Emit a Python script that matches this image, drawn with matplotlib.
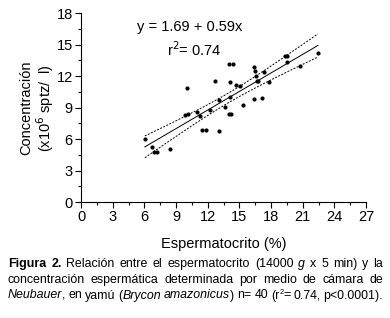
import numpy as np
import matplotlib
matplotlib.use("Agg")
import matplotlib.pyplot as plt
from matplotlib.ticker import MultipleLocator

plt.rcParams['font.family'] = ['Liberation Sans', 'DejaVu Sans']

# espermatocrito (%) vs concentracion (x10^6 sptz/ul), n = 40
hematocrit = [6.05, 6.74, 6.96, 7.19, 8.42, 10.04, 9.81, 10.10, 10.95, 11.30,
              11.49, 11.84, 12.18, 12.68, 13.04, 13.04, 13.60, 14.05, 14.18, 14.15,
              14.12, 14.02, 14.40, 14.66, 15.03, 15.32, 16.43, 16.46, 16.55, 16.68,
              16.78, 17.31, 17.85, 16.43, 17.14, 19.35, 19.50, 19.53, 20.70, 22.44]
concentration = [6.00, 5.20, 4.80, 4.80, 5.10, 10.85, 8.33, 8.37, 8.55, 8.22,
                 6.88, 6.88, 8.80, 11.55, 6.80, 9.75, 9.04, 8.42, 8.40, 10.02,
                 11.43, 13.20, 13.12, 11.13, 11.04, 9.22, 12.85, 12.47, 12.05, 11.50,
                 11.52, 12.43, 11.43, 9.78, 9.92, 13.92, 13.95, 13.35, 13.02, 14.25]
intercept, slope = 1.69, 0.59
r_squared = 0.74

x = np.array(hematocrit)
y = np.array(concentration)

fig = plt.figure(figsize=(3.9, 3.18), dpi=100)
ax = fig.add_axes([81 / 390, 1 - 202 / 318, 285 / 390, 188.7 / 318])

ax.scatter(x, y, s=9, color='black', zorder=3, linewidths=0)

# regression line + 95% confidence band of the mean
xf = np.linspace(x.min(), x.max(), 200)
yf = intercept + slope * xf
n = len(x)
resid = y - (intercept + slope * x)
s = np.sqrt(np.sum(resid ** 2) / (n - 2))
sxx = np.sum((x - x.mean()) ** 2)
half = 2.024 * s * np.sqrt(1 / n + (xf - x.mean()) ** 2 / sxx)
ax.plot(xf, yf, color='black', lw=0.7)
ax.plot(xf, yf + half, color='black', lw=0.7, ls=(0, (2, 1.5)))
ax.plot(xf, yf - half, color='black', lw=0.7, ls=(0, (2, 1.5)))

ax.set_xlim(0, 27)
ax.set_ylim(0, 18)
ax.xaxis.set_major_locator(MultipleLocator(3))
ax.xaxis.set_minor_locator(MultipleLocator(1.5))
ax.yaxis.set_major_locator(MultipleLocator(3))
ax.yaxis.set_minor_locator(MultipleLocator(1.5))
ax.spines['top'].set_visible(False)
ax.spines['right'].set_visible(False)
for sp in ('left', 'bottom'):
    ax.spines[sp].set_linewidth(0.8)
ax.tick_params(which='major', length=4, width=0.8, labelsize=10.5, pad=2)
ax.tick_params(which='minor', length=2.5, width=0.8)

ax.text(10.3, 16.7, f"y = {intercept} + {slope}x", fontsize=10.5, ha='center', va='center')
ax.text(10.7, 14.5, f"r$^2$= {r_squared}", fontsize=10.5, ha='center', va='center')

ax.set_xlabel("Espermatocrito (%)", fontsize=10.5, labelpad=9)
fig.text(26 / 390, 1 - 108 / 318, "Concentración", rotation=90, fontsize=10.5,
         ha='center', va='center')
fig.text(45 / 390, 1 - 108 / 318, "(x10$^6$ sptz/  l)", rotation=90, fontsize=10.5,
         ha='center', va='center')

# justified caption
caption = [
    [("Figura 2.", 'b'), (" Relación entre el espermatocrito (14000 ", 'n'), ("g", 'i'),
     (" x 5 min) y la", 'n')],
    [("concentración espermática determinada por medio de cámara de", 'n')],
    [("Neubauer", 'i'), (", en yamú (", 'n'), ("Brycon amazonicus", 'i'),
     (") n= 40 (r", 'n'), ("2", 's'), ("= 0.74, p<0.0001).", 'n')],
]
baselines = [267, 283, 298.5]
left_px, right_px = 8, 383
cap_size = 8.9


def tokens(segs):
    toks = [[]]
    for txt, st in segs:
        parts = txt.split(' ')
        for i, p in enumerate(parts):
            if i > 0:
                toks.append([])
            if p:
                toks[-1].append((p, st))
    return [t for t in toks if t]


renderer = fig.canvas.get_renderer()
for segs, base in zip(caption, baselines):
    toks = tokens(segs)
    items = []
    widths = []
    for tok in toks:
        tw = []
        for txt, st in tok:
            kw = dict(fontsize=cap_size, va='baseline', ha='left')
            if st == 'b':
                kw['fontweight'] = 'bold'
            elif st == 'i':
                kw['fontstyle'] = 'italic'
            elif st == 's':
                kw['fontsize'] = cap_size * 0.6
            t = fig.text(0, 0, txt, **kw)
            w = t.get_window_extent(renderer).width
            tw.append((t, w, st))
        items.append(tw)
        widths.append(sum(w for _, w, _ in tw))
    gap = (right_px - left_px - sum(widths)) / (len(items) - 1)
    xpos = left_px
    for tw in items:
        for t, w, st in tw:
            yb = base - 5 if st == 's' else base
            t.set_position((xpos / 390, 1 - yb / 318))
            xpos += w
        xpos += gap

fig.savefig("out.png", dpi=100)
